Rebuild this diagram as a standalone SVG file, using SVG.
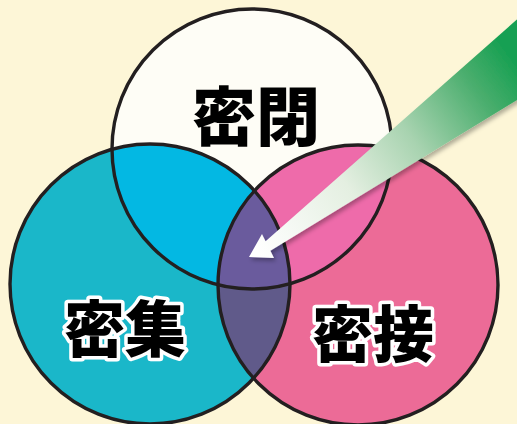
<svg xmlns="http://www.w3.org/2000/svg" width="517" height="424" viewBox="0 0 517 424">
  <style>
    .ring { fill: none; stroke: #231f20; stroke-width: 3.4; }
    .lbl { font-family: "Noto Sans CJK JP", "Noto Sans CJK SC", sans-serif; font-weight: 900; text-anchor: middle; dominant-baseline: central; fill: #000; }
    .halo { stroke: #fff; stroke-width: 7; stroke-linejoin: round; paint-order: stroke; }
  </style>
  <defs>
    <clipPath id="cTop"><circle cx="252" cy="149" r="140"/></clipPath>
    <clipPath id="cLeft"><circle cx="150" cy="284" r="140"/></clipPath>
    <clipPath id="cRight"><circle cx="358" cy="285" r="140"/></clipPath>
    <linearGradient id="gArrow" gradientUnits="userSpaceOnUse" x1="255" y1="250" x2="515" y2="62">
      <stop offset="0" stop-color="#ffffff"/>
      <stop offset="0.35" stop-color="#e4efe1"/>
      <stop offset="0.6" stop-color="#a8d3b0"/>
      <stop offset="0.85" stop-color="#4bae6e"/>
      <stop offset="1" stop-color="#17a052"/>
    </linearGradient>
    <filter id="shadow" x="-10%" y="-10%" width="130%" height="130%">
      <feDropShadow dx="2" dy="3" stdDeviation="2" flood-color="#000" flood-opacity="0.3"/>
    </filter>
  </defs>
  <rect width="517" height="424" fill="#fdf6d7"/>

  <g id="node-mitsushu">
    <circle cx="150" cy="284" r="140" fill="#1ab7c9"/>
  </g>
  <g id="node-missetsu">
    <circle cx="358" cy="285" r="140" fill="#ec6b97"/>
  </g>
  <g id="node-mippei">
    <circle cx="252" cy="149" r="140" fill="#fefdf6"/>
  </g>
  <g id="overlaps">
    <g clip-path="url(#cTop)">
      <circle cx="150" cy="284" r="140" fill="#03b8e3"/>
      <circle cx="358" cy="285" r="140" fill="#ee6baa"/>
    </g>
    <g clip-path="url(#cLeft)">
      <circle cx="358" cy="285" r="140" fill="#605a8a"/>
      <circle cx="252" cy="149" r="140" fill="#6a5b9d" clip-path="url(#cRight)"/>
    </g>
  </g>
  <g id="rings">
    <circle class="ring" cx="150" cy="284" r="140"/>
    <circle class="ring" cx="358" cy="285" r="140"/>
    <circle class="ring" cx="252" cy="149" r="140"/>
  </g>

  <g id="labels">
    <text class="lbl" x="256" y="112" font-size="64">密閉</text>
    <text class="lbl halo" x="125" y="325" font-size="61">密集</text>
    <text class="lbl halo" x="373" y="330" font-size="61">密接</text>
  </g>

  <g id="connectors">
    <polygon filter="url(#shadow)" fill="url(#gArrow)" points="249,257 262,234 265.6,241.2 530,8 530,92 270.4,250.8 274,258"/>
  </g>
</svg>
